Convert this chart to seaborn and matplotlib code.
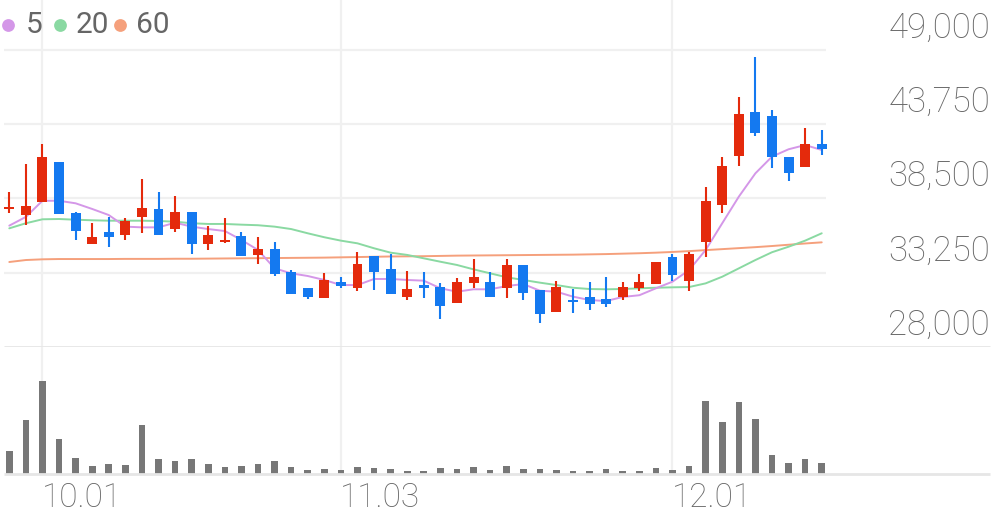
import numpy as np
import pandas as pd
import matplotlib
matplotlib.use('Agg')
import matplotlib.pyplot as plt
import matplotlib.transforms as mtrans
import seaborn as sns

# ---- data ----
tick_idx = [2, 20, 40]
tick_labels = ['10.01', '11.03', '12.01']
price_ticks = [28000, 33250, 38500, 43750, 49000]

opens  = [37750, 37350, 38250, 41050, 37500, 35300, 36150, 35950, 37200, 37750,
          36350, 37550, 35300, 35400, 35850, 34500, 34950, 33300, 32200, 31450,
          32600, 32200, 34400, 33500, 31550, 32350, 32250, 31100, 32550, 32600,
          32200, 33800, 32000, 30450, 31300, 31550, 31400, 31550, 32150, 32450,
          34350, 32700, 35400, 38050, 41500, 44650, 44350, 41400, 40750, 42350]
highs  = [38950, 40950, 42350, 41100, 37550, 36750, 37200, 37150, 39850, 38950,
          38650, 37550, 36550, 37100, 36150, 35750, 35400, 33450, 32200, 33200,
          32950, 34700, 34400, 34550, 33350, 33300, 32500, 32850, 34250, 33300,
          34200, 33800, 32000, 32700, 32100, 32600, 32950, 32600, 33150, 34000,
          34600, 34750, 39300, 41450, 45700, 48500, 44750, 41400, 43500, 43350]
lows   = [37450, 36600, 38250, 37400, 35550, 35300, 35050, 35550, 36050, 35950,
          36100, 34550, 34850, 35350, 34400, 33850, 33050, 31750, 31400, 31450,
          32200, 31950, 32050, 31750, 31300, 31450, 29950, 31100, 32200, 31550,
          31450, 31300, 29700, 30450, 30400, 30600, 30800, 31300, 31950, 32450,
          32650, 31950, 34350, 37450, 40800, 42900, 40650, 39750, 40750, 41600]
closes = [37900, 37950, 41400, 37400, 36200, 35800, 35800, 36900, 37800, 35950,
          37550, 35250, 35950, 35600, 34450, 34900, 33150, 31750, 31500, 32750,
          32300, 33900, 33300, 31750, 32100, 32200, 30900, 32600, 32950, 31550,
          33800, 31850, 30300, 32250, 31150, 31050, 31050, 32250, 32600, 34000,
          33100, 34600, 38350, 40800, 44500, 43150, 41400, 40300, 42350, 42000]
volume = [340, 815, 1400, 530, 235, 120, 155, 140, 730, 225,
          200, 225, 150, 100, 125, 150, 190, 110, 65, 70,
          55, 110, 85, 75, 50, 40, 85, 75, 100, 55,
          125, 70, 75, 65, 40, 45, 70, 50, 40, 85,
          65, 120, 1090, 780, 1075, 825, 280, 160, 230, 170]
ma5  = [36580, 37200, 38340, 38340, 38160, 37760, 37330, 36510, 36460, 36460,
        36790, 36510, 36340, 36200, 35570, 34860, 33560, 33210, 33020, 32740,
        32380, 32380, 32810, 32810, 32740, 32690, 32150, 31910, 32080, 32080,
        32310, 32450, 31980, 31910, 31560, 31320, 31250, 31540, 31660, 32150,
        32620, 33440, 34860, 36750, 38630, 40280, 41460, 41980, 42280, 41930]
ma20 = [36390, 36750, 37030, 37050, 37000, 36960, 36930, 36930, 36930, 36910,
        36860, 36750, 36700, 36700, 36650, 36610, 36510, 36340, 36040, 35760,
        35520, 35330, 34980, 34670, 34510, 34270, 34030, 33800, 33490, 33210,
        32930, 32740, 32550, 32380, 32190, 32100, 32080, 32100, 32150, 32190,
        32220, 32240, 32500, 32970, 33560, 34150, 34700, 35090, 35520, 36040]
ma60 = [34010, 34150, 34200, 34220, 34220, 34220, 34220, 34230, 34230, 34230,
        34240, 34240, 34250, 34260, 34270, 34280, 34290, 34300, 34310, 34320,
        34340, 34360, 34380, 34400, 34410, 34420, 34440, 34460, 34470, 34480,
        34490, 34500, 34510, 34520, 34530, 34550, 34570, 34600, 34630, 34670,
        34720, 34780, 34850, 34920, 34990, 35060, 35140, 35230, 35320, 35400]

# ---- style ----
UP, DOWN = '#e42a0c', '#1479f0'
C5, C20, C60 = '#d497e8', '#8ad9a2', '#f5a07c'
TXT = '#666666'
GRID = '#f0f0f0'
SEP = '#e6e6e6'

sns.set_style('white')
plt.rcParams['font.family'] = ['Roboto', 'DejaVu Sans']

df = pd.DataFrame({'i': np.arange(len(opens)), 'open': opens, 'high': highs,
                   'low': lows, 'close': closes, 'vol': volume,
                   'ma5': ma5, 'ma20': ma20, 'ma60': ma60})
df['up'] = df['close'] >= df['open']
df['col'] = np.where(df['up'], UP, DOWN)

W, H = 996, 519
fig = plt.figure(figsize=(W / 100, H / 100), dpi=100)
ax = fig.add_axes([0, (H - 347) / H, 1, 347 / H])
axv = fig.add_axes([0, (H - 474) / H, 1, 127 / H])

px = lambda p: (p - 9.3) / 16.58   # pixel x -> index
xlim = (px(0), px(W))
for a in (ax, axv):
    a.set_xlim(*xlim)
    a.axis('off')
    for t in tick_idx:
        a.axvline(t, color=GRID, lw=1.6, zorder=0)

# price panel
ax.set_ylim(28000, 28000 + 347 * 70.707)
ax.hlines(price_ticks[1:], px(4), px(826), color=GRID, lw=1.6, zorder=0)
ax.hlines(price_ticks[0], px(4), px(990), color=SEP, lw=2, zorder=0)

sns.lineplot(data=df, x='i', y='ma60', color=C60, lw=1.4, ax=ax, zorder=2)
sns.lineplot(data=df, x='i', y='ma20', color=C20, lw=1.4, ax=ax, zorder=2)
sns.lineplot(data=df, x='i', y='ma5', color=C5, lw=1.4, ax=ax, zorder=2)

ax.vlines(df['i'], df['low'], df['high'], colors=df['col'], lw=1.5, zorder=3)
body_lo = df[['open', 'close']].min(axis=1)
body_h = (df['close'] - df['open']).abs().clip(lower=110)
ax.bar(df['i'], body_h, bottom=body_lo, width=0.6, color=df['col'], lw=0, zorder=4)
ax.axis('off')

off = mtrans.offset_copy(ax.transData, fig=fig, x=0, y=22, units='dots')
lbl_tr = mtrans.blended_transform_factory(ax.transAxes, off)
for v in price_ticks:
    ax.text(990 / W, v, f'{v:,}', transform=lbl_tr, ha='right', va='center',
            fontsize=25, color=TXT, fontweight='light')

# legend
for xd, xt, c, s in [(8.3, 26, C5, '5'), (60, 76, C20, '20'), (120, 136, C60, '60')]:
    fig.lines.append(plt.Line2D([xd / W], [1 - 25 / H], transform=fig.transFigure,
                                marker='o', ms=9.2, color=c, mec='none', ls=''))
    fig.text(xt / W, 1 - 25 / H, s, ha='left', va='center', fontsize=21.5,
             color=TXT)

# volume panel
sns.barplot(x=df['i'], y=df['vol'], native_scale=True, color='#777777',
            saturation=1, width=0.4, linewidth=0, ax=axv)
axv.set_xlim(*xlim)
axv.set_ylim(0, max(volume) * 127 / 93.3)
axv.hlines(0, px(4), px(990), color=SEP, lw=2, zorder=5, clip_on=False)
axv.axis('off')

xl_tr = mtrans.blended_transform_factory(axv.transData, axv.transAxes)
for t, s in zip(tick_idx, tick_labels):
    axv.text(t - 0.05, -24 / 127, s, transform=xl_tr, ha='left', va='center',
             fontsize=24, color=TXT, fontweight='light')

plt.savefig('out.png', dpi=100)
